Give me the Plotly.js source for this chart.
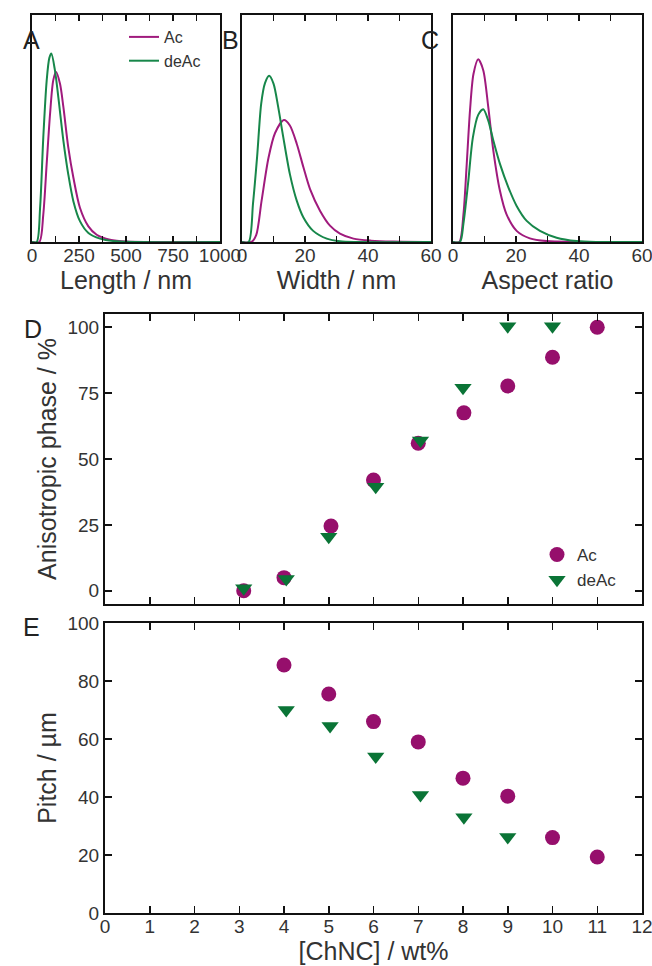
<!DOCTYPE html>
<html>
<head>
<meta charset="utf-8">
<script src="https://cdn.plot.ly/plotly-3.0.1.min.js"></script>
<style>html,body{margin:0;padding:0;background:#fff;}#chart{width:652px;height:966px;}</style>
</head>
<body>
<div id="chart"></div>
<script>
// ---- Panel A: length distribution (normalised density) ----
const lenAcX = [0, 39, 60, 78, 96, 113, 128, 149, 167, 193, 220, 255, 300, 344, 415, 504, 1000];
const lenAcY = [0, 0, 0.121, 0.343, 0.564, 0.712, 0.749, 0.697, 0.594, 0.417, 0.284, 0.151, 0.069, 0.032, 0.010, 0.002, 0];
const lenDeX = [0, 25, 43, 60, 78, 92, 103, 122, 140, 167, 193, 220, 255, 300, 362, 450, 1000];
const lenDeY = [0, 0, 0.15, 0.46, 0.71, 0.81, 0.83, 0.756, 0.638, 0.446, 0.298, 0.18, 0.092, 0.04, 0.015, 0.003, 0];
// ---- Panel B: width distribution ----
const widAcX = [0, 3.0, 4.5, 6.2, 8.4, 10.5, 13.3, 15.2, 17.4, 19.5, 21.6, 24.8, 28.0, 31.1, 35.4, 41.0, 48.0, 60];
const widAcY = [0, 0, 0.03, 0.18, 0.37, 0.48, 0.537, 0.513, 0.432, 0.329, 0.233, 0.137, 0.071, 0.037, 0.015, 0.006, 0.002, 0];
const widDeX = [0, 2.1, 3.5, 4.8, 6.1, 7.3, 8.6, 10.0, 11.5, 13.1, 15.2, 17.4, 19.5, 22.6, 26.9, 31.1, 36.4, 60];
const widDeY = [0, 0, 0.17, 0.376, 0.61, 0.70, 0.732, 0.698, 0.594, 0.462, 0.299, 0.181, 0.108, 0.049, 0.015, 0.003, 0, 0];
// ---- Panel C: aspect ratio distribution ----
const arAcX = [0, 2.0, 3.3, 4.3, 5.4, 6.5, 8.0, 9.6, 11.2, 12.8, 14.9, 17.0, 20.2, 24.4, 29.7, 60];
const arAcY = [0, 0, 0.12, 0.33, 0.58, 0.74, 0.805, 0.757, 0.594, 0.403, 0.226, 0.122, 0.049, 0.016, 0.004, 0];
const arDeX = [0, 2.2, 3.3, 4.8, 6.3, 8.0, 9.6, 11.2, 12.8, 14.9, 17.6, 20.2, 23.4, 27.6, 32.9, 39.2, 45.6, 60];
const arDeY = [0, 0, 0.08, 0.26, 0.46, 0.56, 0.585, 0.535, 0.447, 0.344, 0.240, 0.159, 0.093, 0.049, 0.019, 0.004, 0, 0];
// ---- Panel D: anisotropic phase ----
const anAcX = [3.1, 4.0, 5.05, 6.0, 7.0, 8.02, 9.0, 10.0, 11.0];
const anAcY = [0, 5, 24.6, 42, 56, 67.5, 77.7, 88.6, 100];
const anDeX = [3.1, 4.05, 5.0, 6.05, 7.05, 8.0, 9.0, 10.0];
const anDeY = [1, 4.5, 20.5, 39.5, 57, 77, 100.4, 100.4];
// ---- Panel E: pitch ----
const piAcX = [4.0, 5.0, 6.0, 7.0, 8.0, 9.0, 10.0, 11.0];
const piAcY = [85.5, 75.5, 66, 59, 46.5, 40.3, 26, 19.3];
const piDeX = [4.05, 5.03, 6.05, 7.05, 8.02, 9.0];
const piDeY = [70, 64.5, 54, 40.7, 33, 26.2];

const seriesNames = ['Ac', 'deAc'];
const lenTicks = [0, 125, 250, 375, 500, 625, 750, 875, 1000];
const lenTickText = ['0', '', '250', '', '500', '', '750', '', '1000'];
const sixtyTicks = [0, 10, 20, 30, 40, 50, 60];
const sixtyTickText = ['0', '', '20', '', '40', '', '60'];

const cAcLine = '#a01a7d';
const cDeLine = '#17874a';
const cAcMk = '#960f6c';
const cDeMk = '#0a7436';

const W = 652, H = 966;
const fx = p => p / W;
const fy = p => 1 - p / H;

function curve(x, y, name, color, xa, ya, show) {
  return {x: x, y: y, name: name, type: 'scatter', mode: 'lines',
    line: {color: color, width: 2, shape: 'spline', smoothing: 0.8},
    xaxis: xa, yaxis: ya, showlegend: show, legend: 'legend', hoverinfo: 'skip'};
}
function pts(x, y, name, color, sym, size, xa, ya, show) {
  return {x: x, y: y, name: name, type: 'scatter', mode: 'markers',
    marker: {color: color, symbol: sym, size: size, line: {width: 0}},
    xaxis: xa, yaxis: ya, showlegend: show, legend: 'legend2', cliponaxis: false};
}

const data = [
  curve(lenAcX, lenAcY, seriesNames[0], cAcLine, 'x', 'y', true),
  curve(lenDeX, lenDeY, seriesNames[1], cDeLine, 'x', 'y', true),
  curve(widAcX, widAcY, seriesNames[0], cAcLine, 'x2', 'y2', false),
  curve(widDeX, widDeY, seriesNames[1], cDeLine, 'x2', 'y2', false),
  curve(arAcX, arAcY, seriesNames[0], cAcLine, 'x3', 'y3', false),
  curve(arDeX, arDeY, seriesNames[1], cDeLine, 'x3', 'y3', false),
  pts(anAcX, anAcY, seriesNames[0], cAcMk, 'circle', 15, 'x4', 'y4', true),
  pts(anDeX, anDeY, seriesNames[1], cDeMk, 'triangle-down', 15, 'x4', 'y4', true),
  pts(piAcX, piAcY, seriesNames[0], cAcMk, 'circle', 15, 'x5', 'y5', false),
  pts(piDeX, piDeY, seriesNames[1], cDeMk, 'triangle-down', 15, 'x5', 'y5', false)
];

const FAM = 'Liberation Sans, Arial, sans-serif';
const tickFont = {family: FAM, size: 19, color: '#333'};
const titleFont = {family: FAM, size: 25, color: '#333'};

function xax(dom, anchor, range, extra) {
  return Object.assign({domain: dom, anchor: anchor, range: range, showgrid: false, zeroline: false,
    showline: true, linecolor: '#111', linewidth: 2, mirror: 'ticks', ticks: 'inside', ticklen: 6,
    tickwidth: 1.5, tickcolor: '#111', tickfont: tickFont, ticklabeloverflow: 'allow',
    ticklabelstandoff: -5, fixedrange: true}, extra);
}
function yax(dom, anchor, range, extra) {
  return Object.assign({domain: dom, anchor: anchor, range: range, showgrid: false, zeroline: false,
    showline: true, linecolor: '#111', linewidth: 2, mirror: 'ticks', ticks: 'inside', ticklen: 7,
    tickwidth: 1.5, tickcolor: '#111', tickfont: tickFont, ticklabeloverflow: 'allow', fixedrange: true}, extra);
}

const yTop = [fy(242), fy(15)];
const yD = [fy(604), fy(314)];
const yE = [fy(913), fy(623)];

const layout = {
  width: W, height: H,
  margin: {l: 0, r: 0, t: 0, b: 0},
  paper_bgcolor: '#fff', plot_bgcolor: '#fff',
  font: {family: FAM, color: '#333'},
  xaxis: xax([fx(32), fx(220)], 'y', [0, 1000], {tickmode: 'array', tickvals: lenTicks, ticktext: lenTickText,
    title: {text: 'Length / nm', font: titleFont, standoff: 4}}),
  yaxis: yax(yTop, 'x', [0, 1], {showticklabels: false, ticks: '', mirror: true}),
  xaxis2: xax([fx(242), fx(431)], 'y2', [0, 60], {tickmode: 'array', tickvals: sixtyTicks, ticktext: sixtyTickText,
    title: {text: 'Width / nm', font: titleFont, standoff: 4}}),
  yaxis2: yax(yTop, 'x2', [0, 1], {showticklabels: false, ticks: '', mirror: true}),
  xaxis3: xax([fx(453), fx(642)], 'y3', [0, 60], {tickmode: 'array', tickvals: sixtyTicks, ticktext: sixtyTickText,
    title: {text: 'Aspect ratio', font: titleFont, standoff: 4}}),
  yaxis3: yax(yTop, 'x3', [0, 1], {showticklabels: false, ticks: '', mirror: true}),
  xaxis4: xax([fx(105), fx(642)], 'y4', [0, 12], {dtick: 1, tick0: 0, showticklabels: false, ticklen: 7}),
  yaxis4: yax(yD, 'x4', [-5, 105], {tickmode: 'array', tickvals: [0, 25, 50, 75, 100],
    title: {text: 'Anisotropic phase / %', font: titleFont, standoff: 4}}),
  xaxis5: xax([fx(105), fx(642)], 'y5', [0, 12], {dtick: 1, tick0: 0, ticklen: 7,
    title: {text: '[ChNC] / wt%', font: titleFont, standoff: 4}}),
  yaxis5: yax(yE, 'x5', [0, 100], {dtick: 20, tick0: 0,
    title: {text: 'Pitch / µm', font: titleFont, standoff: 4}}),
  legend: {x: fx(124), y: fy(20), xanchor: 'left', yanchor: 'top', bgcolor: 'rgba(0,0,0,0)',
    font: {family: FAM, size: 16, color: '#333'}, itemwidth: 30, tracegroupgap: 0},
  legend2: {x: fx(537), y: fy(537), xanchor: 'left', yanchor: 'top', bgcolor: 'rgba(0,0,0,0)',
    font: {family: FAM, size: 17, color: '#333'}, itemwidth: 30, tracegroupgap: 0},
  annotations: [
    {text: 'A', x: fx(21), y: fy(24), xref: 'paper', yref: 'paper', showarrow: false, font: {size: 25, color: '#222'}},
    {text: 'B', x: fx(230), y: fy(24), xref: 'paper', yref: 'paper', showarrow: false, font: {size: 25, color: '#222'}},
    {text: 'C', x: fx(441), y: fy(24), xref: 'paper', yref: 'paper', showarrow: false, font: {size: 25, color: '#222'}},
    {text: 'D', x: fx(22), y: fy(329), xref: 'paper', yref: 'paper', showarrow: false, font: {size: 25, color: '#222'}},
    {text: 'E', x: fx(21), y: fy(627), xref: 'paper', yref: 'paper', showarrow: false, font: {size: 25, color: '#222'}}
  ],
  showlegend: true
};

Plotly.newPlot('chart', data, layout, {staticPlot: true, displayModeBar: false});
</script>
</body>
</html>
